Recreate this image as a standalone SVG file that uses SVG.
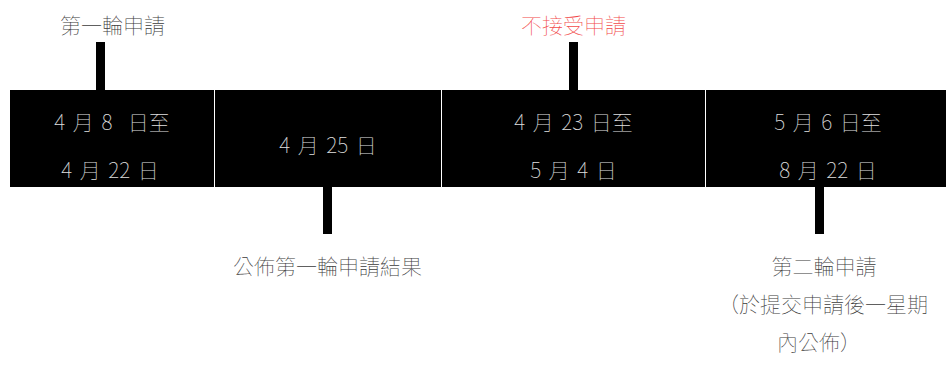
<svg xmlns="http://www.w3.org/2000/svg" width="946" height="371" viewBox="0 0 946 371">
<style>
text{font-family:"Noto Sans CJK TC","Noto Sans CJK SC",sans-serif;font-weight:100;font-size:21px;text-anchor:middle}
.box{fill:#000}
.bt{fill:#e0e0e0;word-spacing:3px}
.lbl{fill:#3c3c3c}
.red{fill:#f24b4b}
.con{fill:#000}
</style>
<rect x="0" y="0" width="946" height="371" fill="#fff"/>
<g id="node-1">
<rect class="box" x="10" y="90" width="204" height="97"/>
<text class="bt" x="112" y="130" xml:space="preserve">4 月 8  日至</text>
<text class="bt" x="110" y="178">4 月 22 日</text>
</g>
<g id="node-2">
<rect class="box" x="215" y="90" width="226" height="97"/>
<text class="bt" x="328" y="153">4 月 25 日</text>
</g>
<g id="node-3">
<rect class="box" x="442" y="90" width="263" height="97"/>
<text class="bt" x="573.5" y="130">4 月 23 日至</text>
<text class="bt" x="573.5" y="178">5 月 4 日</text>
</g>
<g id="node-4">
<rect class="box" x="706" y="90" width="240" height="97"/>
<text class="bt" x="828" y="130">5 月 6 日至</text>
<text class="bt" x="828" y="178">8 月 22 日</text>
</g>
<g id="label-1"><text class="lbl" x="112.5" y="33">第一輪申請</text></g>
<g id="label-2"><text class="red" x="573.5" y="33">不接受申請</text></g>
<g id="label-3"><text class="lbl" x="327.5" y="274">公佈第一輪申請結果</text></g>
<g id="label-4">
<text class="lbl" x="824" y="274">第二輪申請</text>
<text class="lbl" x="823" y="312">（於提交申請後一星期</text>
<text class="lbl" x="819" y="350">內公佈）</text>
</g>
<g id="connectors">
<rect class="con" x="96" y="42" width="9" height="48"/>
<rect class="con" x="569" y="42" width="9" height="48"/>
<rect class="con" x="323" y="187" width="9" height="47"/>
<rect class="con" x="815" y="187" width="9" height="47"/>
</g>
</svg>
